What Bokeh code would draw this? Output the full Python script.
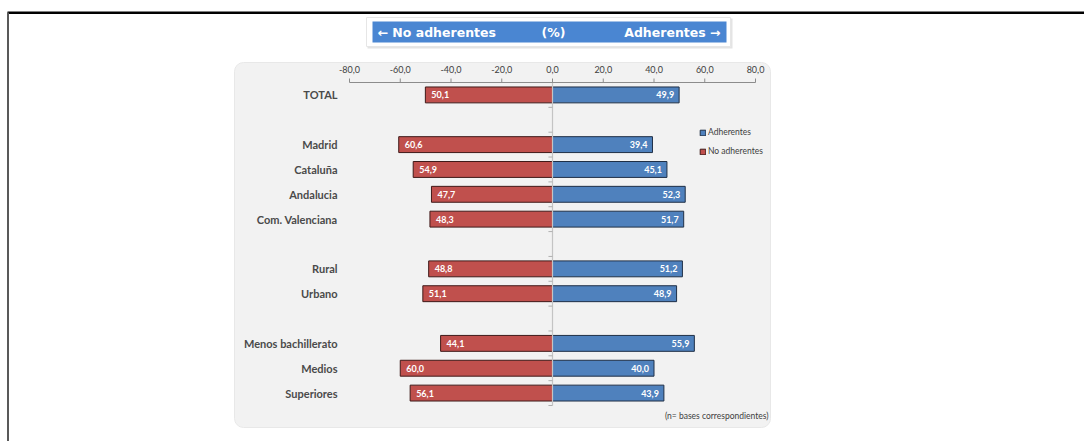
from bokeh.plotting import figure
from bokeh.models import Range1d, BoxAnnotation, Legend, LegendItem, ColumnDataSource
from bokeh.core.properties import value
from bokeh.embed import file_html
from bokeh.resources import INLINE

# ---------------- data ----------------
categories = ["TOTAL", None, "Madrid", "Cataluña", "Andalucia", "Com. Valenciana", None,
              "Rural", "Urbano", None, "Menos bachillerato", "Medios", "Superiores"]
adherentes = [49.9, None, 39.4, 45.1, 52.3, 51.7, None, 51.2, 48.9, None, 55.9, 40.0, 43.9]
no_adherentes = [50.1, None, 60.6, 54.9, 47.7, 48.3, None, 48.8, 51.1, None, 44.1, 60.0, 56.1]
tick_values = [-80, -60, -40, -20, 0, 20, 40, 60, 80]
tick_labels = ["-80,0", "-60,0", "-40,0", "-20,0", "0,0", "20,0", "40,0", "60,0", "80,0"]
header_left = "← No adherentes"
header_mid = "(%)"
header_right = "Adherentes →"
footnote = "(n= bases correspondientes)"

# ---------------- layout constants ----------------
W, H = 1084, 441
X_MIN_PX, X_MAX_PX = 349, 755      # pixel of -80 and 80
TOP_PX, BOT_PX = 82, 405            # category area
n = len(categories)
step = (BOT_PX - TOP_PX) / n
ppu = (X_MAX_PX - X_MIN_PX) / (tick_values[-1] - tick_values[0])

RED = "#c0504d"
BLUE = "#4f81bd"
TXT = "#404040"
FONT = "Lato"

p = figure(width=W, height=H, output_backend="svg", toolbar_location=None,
           x_range=Range1d(0, W), y_range=Range1d(H, 0),
           x_axis_location=None, y_axis_location=None, min_border=0,
           outline_line_color=None, background_fill_color="white",
           border_fill_color="white")
p.grid.visible = False

p.extra_x_ranges = {"val": Range1d(tick_values[0] - X_MIN_PX / ppu,
                                   tick_values[-1] + (W - X_MAX_PX) / ppu)}
p.extra_y_ranges = {"slot": Range1d(-0.5 + (H - TOP_PX) / step, -0.5 - TOP_PX / step)}

# ---------------- frame decoration ----------------
p.quad(left=7, right=W, top=11, bottom=13.5, fill_color="black", line_color=None)
p.quad(left=6.5, right=8.5, top=12, bottom=H, fill_color="#595959", line_color=None)

# header box (with soft shadow)
p.quad(left=367, right=732, top=18, bottom=48, fill_color="#e4e4e4", line_color=None)
p.quad(left=366, right=730, top=17, bottom=46, fill_color="white", line_color="#e6e6e6")
p.quad(left=372, right=726, top=21, bottom=42, fill_color="#4a86d2", line_color=None)
p.text(x=[377], y=[31.5], text=[header_left], text_color="white", text_font=value("DejaVu Sans"),
       text_font_style="bold", text_font_size="12.5px", text_baseline="middle", text_align="left")
p.text(x=[553], y=[31.5], text=[header_mid], text_color="white", text_font=value("DejaVu Sans"),
       text_font_style="bold", text_font_size="12.5px", text_baseline="middle", text_align="center")
p.text(x=[720], y=[31.5], text=[header_right], text_color="white", text_font=value("DejaVu Sans"),
       text_font_style="bold", text_font_size="12.5px", text_baseline="middle", text_align="right")

# chart panel
panel = BoxAnnotation(left=234, right=770, top=62, bottom=427, fill_color="#f2f2f2",
                      fill_alpha=1, line_color="#e8e8e8", line_alpha=1, border_radius=9,
                      level="underlay")
p.add_layout(panel)

# ---------------- data sources ----------------
idx = [i for i, c in enumerate(categories) if c is not None]
fmt = lambda v: f"{v:.1f}".replace(".", ",")
src = ColumnDataSource(dict(
    y=idx,
    cat=[categories[i] for i in idx],
    adh=[adherentes[i] for i in idx],
    noadh=[-no_adherentes[i] for i in idx],
    zero=[0] * len(idx),
    adh_lbl=[fmt(adherentes[i]) for i in idx],
    noadh_lbl=[fmt(no_adherentes[i]) for i in idx],
    xmin=[tick_values[0]] * len(idx),
))

bh = 0.64
r_blue = p.hbar(y="y", left="zero", right="adh", height=bh, source=src, fill_color=BLUE,
                line_color="#1f2f46", line_width=1, x_range_name="val", y_range_name="slot")
r_red = p.hbar(y="y", left="noadh", right="zero", height=bh, source=src, fill_color=RED,
               line_color="#3f1a19", line_width=1, x_range_name="val", y_range_name="slot")

# zero line with small ticks at category boundaries
p.segment(x0=[0], x1=[0], y0=[-0.5], y1=[n - 0.5], line_color="#c4c4c4", line_width=1.2,
          x_range_name="val", y_range_name="slot")
bounds = [i - 0.5 for i in range(1, n + 1)]
p.segment(x0=[-1.6] * len(bounds), x1=[0] * len(bounds), y0=bounds, y1=bounds,
          line_color="#b0b0b0", line_width=1, x_range_name="val", y_range_name="slot")

# top axis
p.segment(x0=[tick_values[0]], x1=[tick_values[-1]], y0=[TOP_PX], y1=[TOP_PX],
          line_color="#8c8c8c", line_width=1, x_range_name="val")
p.segment(x0=tick_values, x1=tick_values, y0=[TOP_PX - 4] * len(tick_values),
          y1=[TOP_PX] * len(tick_values), line_color="#8c8c8c", line_width=1, x_range_name="val")
p.text(x=tick_values, y=[TOP_PX - 13] * len(tick_values), text=tick_labels, text_color=TXT,
       text_font=value(FONT), text_font_size="9px", text_baseline="middle", text_align="center",
       x_range_name="val")

# bar labels
p.text(x="adh", y="y", text="adh_lbl", source=src, x_offset=-5, text_align="right",
       text_baseline="middle", text_color="white", text_font=value(FONT), text_font_style="bold",
       text_font_size="9px", x_range_name="val", y_range_name="slot")
p.text(x="noadh", y="y", text="noadh_lbl", source=src, x_offset=6, text_align="left",
       text_baseline="middle", text_color="white", text_font=value(FONT), text_font_style="bold",
       text_font_size="9px", x_range_name="val", y_range_name="slot")

# category labels
p.text(x="xmin", y="y", text="cat", source=src, x_offset=-12, text_align="right",
       text_baseline="middle", text_color="#4a4a4a", text_font=value(FONT), text_font_style="bold",
       text_font_size="11px", x_range_name="val", y_range_name="slot")

# footnote
p.text(x=[768], y=[415], text=[footnote], text_color=TXT, text_font=value(FONT),
       text_font_size="8.5px", text_baseline="middle", text_align="right")

# legend
legend = Legend(items=[LegendItem(label="Adherentes", renderers=[r_blue]),
                       LegendItem(label="No adherentes", renderers=[r_red])],
                location=(699, H - 156), orientation="vertical",
                background_fill_alpha=0, border_line_alpha=0, padding=0, margin=0,
                spacing=9, glyph_width=7, glyph_height=7, label_height=10, label_width=10,
                label_standoff=2, label_text_font=FONT, label_text_font_size="8.5px",
                label_text_color=TXT)
p.add_layout(legend)

open("out.html", "w").write(file_html(p, INLINE))
